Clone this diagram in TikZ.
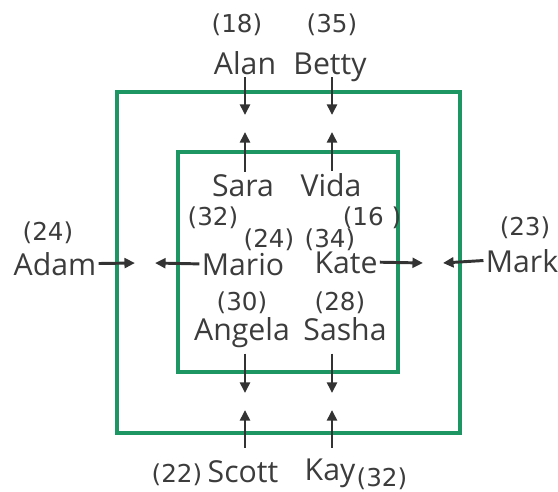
\documentclass[tikz,border=0pt]{standalone}
\usepackage{fontspec}
\setmainfont{Open Sans}
\newfontfamily\agefont{DejaVu Sans}
\usepackage{xcolor}
\usetikzlibrary{arrows.meta}
\definecolor{boxgreen}{HTML}{1D9663}
\definecolor{inkgray}{HTML}{3C3C3C}

\begin{document}
\begin{tikzpicture}[x=0.025cm, y=-0.025cm,
    pname/.style={anchor=base, inner sep=1.5pt, text depth=0pt, text=inkgray,
                  font=\fontsize{21.5}{24}\selectfont},
    age/.style={anchor=base, inner sep=0pt, text=inkgray,
                font=\agefont\fontsize{17.5}{19}\selectfont},
    ring/.style={draw=boxgreen, line width=2.3pt},
    arrow/.style={-{Triangle[length=7.5pt, width=7pt]}, line width=2.1pt, draw=black!80}
]
    \useasboundingbox (0,0) rectangle (558,492);

    % Two rings
    \draw[ring] (117,92) rectangle (460,433);
    \draw[ring] (178,152) rectangle (398,372);

    % Outer ring: people and ages
    \node[pname] (Alan)  at (245,75)  {Alan};
    \node[pname] (Betty) at (330,75)  {Betty};
    \node[pname] (Adam)  at (55,275)  {Adam};
    \node[pname] (Mark)  at (522,272) {Mark};
    \node[pname] (Scott) at (243,482) {Scott};
    \node[pname] (Kay)   at (330,480) {Kay};

    \node[age] (aAlan)  at (237,33)  {(18)};
    \node[age] (aBetty) at (332,33)  {(35)};
    \node[age] (aAdam)  at (48,240)  {(24)};
    \node[age] (aMark)  at (525,235) {(23)};
    \node[age] (aScott) at (177,482) {(22)};
    \node[age] (aKay)   at (382,486) {(32)};

    % Inner ring: people and ages
    \node[pname] (Sara)   at (243,196) {Sara};
    \node[pname] (Vida)   at (331,196) {Vida};
    \node[pname] (Mario)  at (243,275) {Mario};
    \node[pname] (Kate)   at (346,273) {Kate};
    \node[pname] (Angela) at (242,340) {Angela};
    \node[pname] (Sasha)  at (345,340) {Sasha};

    \node[age] (aSara)   at (213,225) {(32)};
    \node[age] (aVida)   at (372,225) {(16 )};
    \node[age] (aMario)  at (269,247) {(24)};
    \node[age] (aKate)   at (330,247) {(34)};
    \node[age] (aAngela) at (242,310) {(30)};
    \node[age] (aSasha)  at (340,310) {(28)};

    % Arrow tips
    \coordinate (tAlan)   at (245,115);
    \coordinate (tBetty)  at (332,115);
    \coordinate (tSara)   at (245,132);
    \coordinate (tVida)   at (332,132);
    \coordinate (tAdam)   at (135,263);
    \coordinate (tMario)  at (155,263);
    \coordinate (tKate)   at (423,263);
    \coordinate (tMark)   at (443,263);
    \coordinate (tAngela) at (245,393);
    \coordinate (tSasha)  at (332,393);
    \coordinate (tScott)  at (245,410);
    \coordinate (tKay)    at (332,410);

    % Outer people point in
    \draw[arrow] (Alan.south -| tAlan) -- (tAlan);
    \draw[arrow] (Betty.south -| tBetty) -- (tBetty);
    \draw[arrow] (Adam.east) -- (tAdam);
    \draw[arrow] (Mark.west) -- (tMark);
    \draw[arrow, shorten <=7pt] (Scott.north -| tScott) -- (tScott);
    \draw[arrow, shorten <=6pt] (Kay.north -| tKay) -- (tKay);

    % Inner people point out
    \draw[arrow] (Sara.north -| tSara) -- (tSara);
    \draw[arrow] (Vida.north -| tVida) -- (tVida);
    \draw[arrow] (Mario.west) -- (tMario);
    \draw[arrow] (Kate.east) -- (tKate);
    \draw[arrow, shorten <=8pt] (Angela.south -| tAngela) -- (tAngela);
    \draw[arrow, shorten <=8pt] (Sasha.south -| tSasha) -- (tSasha);
\end{tikzpicture}
\end{document}
